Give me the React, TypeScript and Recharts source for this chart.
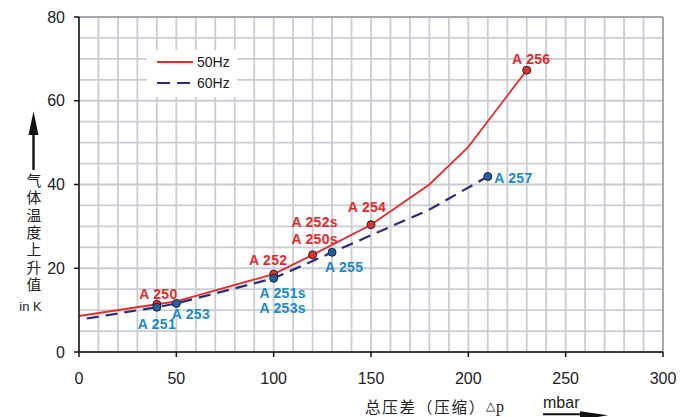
import {
  CartesianGrid,
  Legend,
  Line,
  LineChart,
  ReferenceLine,
  XAxis,
  YAxis,
} from "recharts";

document.body.style.margin = "0";

// 50Hz curve (red, solid)
const redX = [0, 40, 50, 100, 120, 150, 180, 200, 230];
const redY = [8.6, 11.4, 12.1, 18.6, 23.2, 30.4, 40, 49, 67.3];
const redLabels = ["", "A 250", "", "A 252", "A 252s\nA 250s", "A 254", "", "", "A 256"];

// 60Hz curve (navy, dashed)
const blueX = [4, 40, 50, 100, 130, 180, 210];
const blueY = [8.0, 10.7, 11.6, 17.6, 23.8, 34, 41.9];
const blueLabels = ["", "A 251", "A 253", "A 251s\nA 253s", "A 255", "", "A 257"];

const xTicks = [0, 50, 100, 150, 200, 250, 300];
const yTicks = [0, 20, 40, 60, 80];
const xGrid = Array.from({ length: 31 }, (_, i) => i * 10);
const yGrid = Array.from({ length: 17 }, (_, i) => i * 5);

const yTitle = "气体温度上升值";

const red = redX.map((x, i) => ({ x, y: redY[i], label: redLabels[i] }));
const blue = blueX.map((x, i) => ({ x, y: blueY[i], label: blueLabels[i] }));

// label offsets from the dot centre
const labelPos: Record<string, { dx: number; dy: number[] }> = {
  "A 250": { dx: 1.5, dy: [-5] },
  "A 252": { dx: -5.5, dy: [-9] },
  "A 252s\nA 250s": { dx: 2, dy: [-28, -11] },
  "A 254": { dx: -4, dy: [-13] },
  "A 256": { dx: 4.5, dy: [-6] },
  "A 251": { dx: 0, dy: [22] },
  "A 253": { dx: 14.5, dy: [15.5] },
  "A 251s\nA 253s": { dx: 9, dy: [20, 35] },
  "A 255": { dx: 12, dy: [20] },
  "A 257": { dx: 25.5, dy: [6.5] },
};

const series = [
  { name: "50Hz", data: red, line: "#e32b2b", dot: "#e0312f", text: "#e12b2b", dash: undefined },
  { name: "60Hz", data: blue, line: "#2d2a7c", dot: "#1f62a8", text: "#1a88cc", dash: "12 7" },
];

const FONT = "'Liberation Sans', Arial, sans-serif";
const CJK = "'Noto Sans CJK SC', sans-serif";

function makeDot(fill: string, textColor: string) {
  return (p: any) => {
    const { cx, cy, payload, index } = p;
    if (!payload.label) return <g key={`d-${index}`} />;
    const pos = labelPos[payload.label];
    const lines = payload.label.split("\n");
    return (
      <g key={`d-${index}`}>
        <circle cx={cx} cy={cy} r={4} fill={fill} stroke="#2a1f22" strokeWidth={1} />
        {lines.map((t: string, i: number) => (
          <text
            key={i}
            x={cx + pos.dx}
            y={cy + pos.dy[i]}
            textAnchor="middle"
            fontFamily={FONT}
            fontWeight="bold"
            fontSize={14}
            letterSpacing={0.3}
            fill={textColor}
          >
            {t}
          </text>
        ))}
      </g>
    );
  };
}

function LegendBox() {
  return (
    <svg width={90} height={47}>
      {series.map((s, i) => (
        <g key={s.name}>
          <line
            x1={10}
            x2={i === 0 ? 46 : 45}
            y1={12 + i * 21}
            y2={12 + i * 21}
            stroke={s.line}
            strokeWidth={2}
            strokeDasharray={s.dash ? "13 7" : undefined}
          />
          <text x={50} y={17 + i * 21} fontFamily={FONT} fontSize={14} fill="#222">
            {s.name}
          </text>
        </g>
      ))}
    </svg>
  );
}

function YTitle() {
  return (
    <g>
      <line x1={33.5} x2={33.5} y1={125} y2={170} stroke="#111" strokeWidth={2.4} />
      <polygon points="33.5,111.5 28.5,135 38.5,135" fill="#111" />
      <text
        x={34}
        y={173}
        style={{ writingMode: "vertical-rl" }}
        fontFamily={CJK}
        fontSize={14.8}
        letterSpacing={2.5}
        fill="#222"
      >
        {yTitle}
      </text>
      <text x={30.5} y={310.5} textAnchor="middle" fontFamily={FONT} fontSize={13} fill="#222">
        in K
      </text>
    </g>
  );
}

function XTitle() {
  return (
    <g>
      <text x={365} y={406} dominantBaseline="central" fill="#222">
        <tspan fontFamily={CJK} fontSize={15.5} letterSpacing={1.8}>
          总压差（压缩）
        </tspan>
        <tspan fontFamily={FONT} fontSize={12}>
          △
        </tspan>
        <tspan fontFamily="'Liberation Serif', serif" fontSize={16} dx={1}>
          p
        </tspan>
      </text>
      <text x={543} y={408} fontFamily={FONT} fontSize={16} fill="#222">
        mbar
      </text>
      <line x1={543} x2={590} y1={414.3} y2={414.3} stroke="#111" strokeWidth={2} />
      <polygon points="580,411.3 608,415.2 580,420" fill="#111" />
    </g>
  );
}

export default function App() {
  return (
    <div style={{ width: 698, height: 417, background: "#fff" }}>
      <LineChart width={698} height={417} margin={{ top: 17, right: 35, bottom: 35, left: 0 }}>
        <CartesianGrid
          stroke="#c9ccd2"
          strokeWidth={1.8}
          verticalCoordinatesGenerator={({ offset }: any) =>
            xGrid.map((v) => offset.left + (offset.width * v) / 300)
          }
          horizontalCoordinatesGenerator={({ offset }: any) =>
            yGrid.map((v) => offset.top + offset.height * (1 - v / 80))
          }
        />
        <ReferenceLine y={80} stroke="#9a9ea5" strokeWidth={1.6} />
        <ReferenceLine x={300} stroke="#9a9ea5" strokeWidth={1.6} />
        <XAxis
          dataKey="x"
          type="number"
          domain={[0, 300]}
          ticks={xTicks}
          allowDataOverflow
          height={30}
          stroke="#111"
          strokeWidth={1.5}
          tickSize={5}
          tickMargin={16}
          tick={{ fontFamily: FONT, fontSize: 16, fill: "#222" }}
          label={{ content: <XTitle /> }}
        />
        <YAxis
          type="number"
          domain={[0, 80]}
          ticks={yTicks}
          width={79}
          stroke="#111"
          strokeWidth={1.5}
          tickSize={5}
          tickMargin={9}
          tick={{ fontFamily: FONT, fontSize: 16, fill: "#222" }}
          label={{ content: <YTitle /> }}
        />
        <Legend
          layout="vertical"
          align="center"
          verticalAlign="middle"
          wrapperStyle={{ left: 147, top: 50, width: 90, height: 47, background: "#fff" }}
          content={() => <LegendBox />}
        />
        {series.map((s) => (
          <Line
            key={s.name}
            name={s.name}
            data={s.data}
            dataKey="y"
            type="linear"
            stroke={s.line}
            strokeWidth={s.dash ? 2.2 : 1.8}
            strokeDasharray={s.dash}
            dot={makeDot(s.dot, s.text)}
            activeDot={false}
            isAnimationActive={false}
          />
        ))}
      </LineChart>
    </div>
  );
}
